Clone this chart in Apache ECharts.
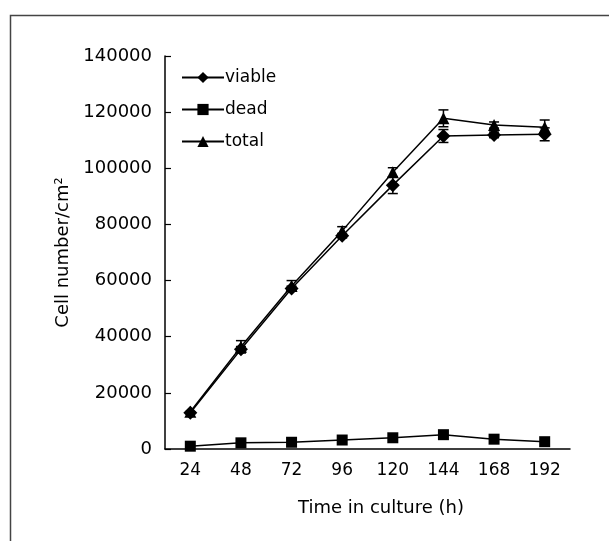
<!DOCTYPE html>
<html>
<head>
<meta charset="utf-8">
<script src="https://cdn.jsdelivr.net/npm/echarts@6/dist/echarts.min.js"></script>
<style>html,body{margin:0;padding:0;background:#fff}#c{width:609px;height:541px}</style>
</head>
<body>
<div id="c"></div>
<script>
var categories = ['24', '48', '72', '96', '120', '144', '168', '192'];
var viable = [12900, 35500, 57200, 76000, 94000, 111500, 111900, 112100];
var dead = [1000, 2200, 2400, 3200, 4000, 5100, 3500, 2600];
var total = [13300, 36400, 58100, 77700, 98600, 117800, 115400, 114600];
var viableErr = [0, 1000, 800, 800, 3000, 2300, 1000, 2300];
var totalErr = [0, 2200, 1900, 1500, 1600, 3000, 1100, 2600];
var yTicks = [0, 20000, 40000, 60000, 80000, 100000, 120000, 140000];

var FONT = 'DejaVu Sans';

function errData(vals, errs) {
  return vals.map(function (v, i) { return [i, v - errs[i], v + errs[i]]; });
}
function errRender(params, api) {
  var x = api.value(0);
  var lo = api.coord([x, api.value(1)]);
  var hi = api.coord([x, api.value(2)]);
  var w = 5;
  var st = { stroke: '#000', lineWidth: 1.5 };
  return {
    type: 'group',
    children: [
      { type: 'line', shape: { x1: lo[0], y1: lo[1], x2: hi[0], y2: hi[1] }, style: st },
      { type: 'line', shape: { x1: lo[0] - w, y1: lo[1], x2: lo[0] + w, y2: lo[1] }, style: st },
      { type: 'line', shape: { x1: hi[0] - w, y1: hi[1], x2: hi[0] + w, y2: hi[1] }, style: st }
    ]
  };
}

var chart = echarts.init(document.getElementById('c'));
chart.setOption({
  backgroundColor: '#fff',
  animation: false,
  graphic: [{
    type: 'rect', left: 8, top: 13, shape: { width: 700, height: 600 },
    style: { fill: 'none', stroke: '#444', lineWidth: 1.5 }, silent: true, z: -1
  }],
  grid: { left: 165, right: 39, top: 56, bottom: 92 },
  legend: {
    orient: 'vertical', left: 176, top: 64, itemGap: 15, itemWidth: 42, itemHeight: 14,
    textStyle: { fontFamily: FONT, fontSize: 17, color: '#000', padding: [0, 0, 0, -4] },
    data: ['viable', 'dead', 'total']
  },
  xAxis: {
    type: 'category', data: categories, boundaryGap: true,
    name: 'Time in culture (h)', nameLocation: 'middle', nameGap: 50,
    nameTextStyle: { fontFamily: FONT, fontSize: 18, color: '#000', padding: [0, 0, 0, 27] },
    axisLine: { lineStyle: { color: '#000', width: 1.5 } },
    axisTick: { inside: true, length: 6, lineStyle: { color: '#000', width: 1.2 } },
    axisLabel: { fontFamily: FONT, fontSize: 17, color: '#000', margin: 13 },
    splitLine: { show: false }
  },
  yAxis: {
    type: 'value', min: 0, max: 140000, interval: 20000,
    name: 'Cell number/cm²', nameLocation: 'middle', nameGap: 91,
    nameTextStyle: { fontFamily: FONT, fontSize: 18, color: '#000' },
    axisLine: { show: true, lineStyle: { color: '#000', width: 1.5 } },
    axisTick: { show: true, inside: true, length: 6, lineStyle: { color: '#000', width: 1.2 } },
    axisLabel: { fontFamily: FONT, fontSize: 18, color: '#000', margin: 13,
      formatter: function (v) { return String(v); } },
    splitLine: { show: false }
  },
  series: [
    { name: 'viable', type: 'line', data: viable, symbol: 'diamond', symbolSize: 14,
      itemStyle: { color: '#000' }, lineStyle: { color: '#000', width: 1.5 }, z: 3 },
    { name: 'dead', type: 'line', data: dead, symbol: 'rect', symbolSize: 11,
      itemStyle: { color: '#000' }, lineStyle: { color: '#000', width: 1.5 }, z: 3 },
    { name: 'total', type: 'line', data: total, symbol: 'triangle', symbolSize: 12,
      itemStyle: { color: '#000' }, lineStyle: { color: '#000', width: 1.5 }, z: 3 },
    { type: 'custom', data: errData(viable, viableErr), renderItem: errRender, z: 4, silent: true },
    { type: 'custom', data: errData(total, totalErr), renderItem: errRender, z: 4, silent: true }
  ]
});
</script>
</body>
</html>
